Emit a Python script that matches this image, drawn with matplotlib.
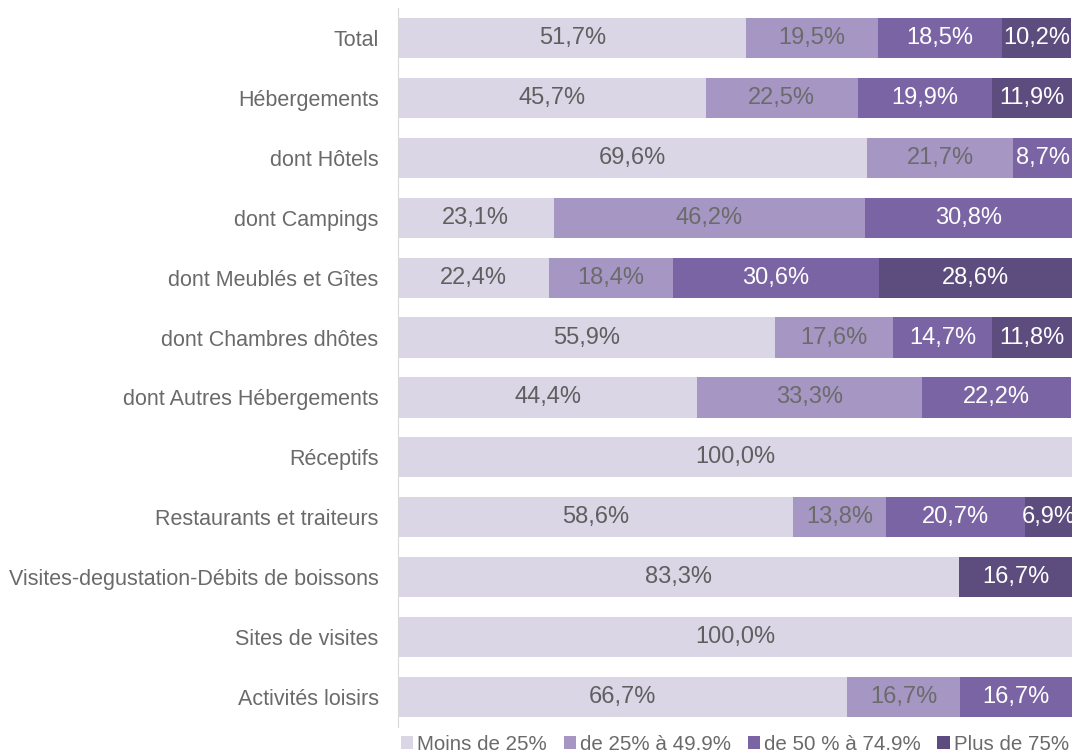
import numpy as np
import matplotlib.pyplot as plt

plt.rcParams['font.family'] = ['Liberation Sans', 'DejaVu Sans']

# Données (parts en %)
categories = ['Total', 'Hébergements', 'dont Hôtels', 'dont Campings',
              'dont Meublés et Gîtes', 'dont Chambres dhôtes',
              'dont Autres Hébergements', 'Réceptifs',
              'Restaurants et traiteurs',
              'Visites-degustation-Débits de boissons',
              'Sites de visites', 'Activités loisirs']
moins_25 = [51.7, 45.7, 69.6, 23.1, 22.4, 55.9, 44.4, 100.0, 58.6, 83.3, 100.0, 66.7]
de_25_50 = [19.5, 22.5, 21.7, 46.2, 18.4, 17.6, 33.3, 0, 13.8, 0, 0, 16.7]
de_50_75 = [18.5, 19.9, 8.7, 30.8, 30.6, 14.7, 22.2, 0, 20.7, 0, 0, 16.7]
plus_75 = [10.2, 11.9, 0, 0, 28.6, 11.8, 0, 0, 6.9, 16.7, 0, 0]

series = [moins_25, de_25_50, de_50_75, plus_75]
noms = ['Moins de 25%', 'de 25% à 49.9%', 'de 50 % à 74.9%', 'Plus de 75%']
couleurs = ['#dad6e6', '#a696c3', '#7a64a4', '#5d4d7e']
couleurs_txt = ['#5f5f5f', '#6b6b6b', 'white', 'white']

fig = plt.figure(figsize=(10.8, 7.55), dpi=100)
ax = fig.add_axes([0.3685, 0.0371, 0.624, 0.9523])

y = np.arange(len(categories))
left = np.zeros(len(categories))
for vals, nom, c, tc in zip(series, noms, couleurs, couleurs_txt):
    vals = np.array(vals)
    ax.barh(y, vals, left=left, height=0.67, color=c, label=nom)
    for yi, v, l in zip(y, vals, left):
        if v > 0:
            ax.text(l + v / 2, yi, f'{v:.1f}%'.replace('.', ','),
                    ha='center', va='center', fontsize=17, color=tc)
    left += vals

ax.set_xlim(0, 100)
ax.set_ylim(len(categories) - 0.5, -0.5)
ax.set_yticks(y)
ax.set_yticklabels(categories, fontsize=15.5, color='#6a6a6a')
ax.tick_params(axis='y', length=0, pad=14)
ax.set_xticks([])
for s in ['top', 'right', 'bottom']:
    ax.spines[s].set_visible(False)
ax.spines['left'].set_color('#d9d9d9')

leg = fig.legend(loc='center left', bbox_to_anchor=(401 / 1080, 1 - 744 / 755),
                 ncol=4, frameon=False, fontsize=14.8, borderpad=0, borderaxespad=0,
                 handlelength=0.6, handleheight=0.6,
                 handletextpad=0.2, columnspacing=0.8)
for t in leg.get_texts():
    t.set_color('#6a6a6a')

fig.savefig('out.png', dpi=100)
